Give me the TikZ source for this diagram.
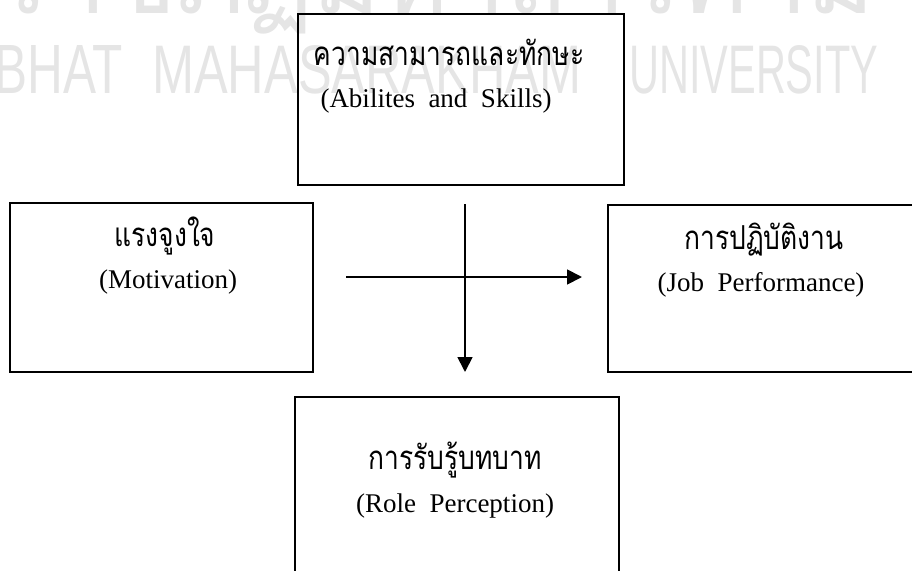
\documentclass[tikz,border=0pt]{standalone}
\usepackage{fontspec}
\setmainfont{Liberation Serif}
\newfontfamily\thaifont[Script=Thai,FakeStretch=0.8]{Loma}
\newfontfamily\wmthai[Script=Thai]{Loma}
\newfontfamily\wmfont{Liberation Sans}
\usetikzlibrary{arrows.meta,positioning}

\tikzset{
box/.style={draw,line width=2pt,inner sep=0pt},
thai/.style={font=\thaifont\fontsize{33}{38}\selectfont,inner sep=0pt,anchor=base},
eng/.style={font=\fontsize{27}{30}\selectfont,inner sep=0pt,anchor=base},
wm/.style={text=black!10,font=\wmfont,inner sep=0pt},
arr/.style={line width=1.8pt,-{Triangle[length=15pt,width=15pt]}}
}

\begin{document}
\begin{tikzpicture}[x=1pt,y=-1pt]
\useasboundingbox (0,0) rectangle (912,570);
\clip (0,0) rectangle (912,570);
\node[wm,anchor=base] (wmth) at (435,13) {\resizebox{880pt}{!}{\wmthai ราชภัฏมหาสารคาม}};
\node[wm,anchor=base east] (wm1) at (123,93) {\resizebox{255pt}{48pt}{RAJABHAT}};
\node[wm,anchor=base west] (wm2) at (152,93) {\resizebox{429pt}{48pt}{MAHASARAKHAM}};
\node[wm,anchor=base west] (wm3) at (629,93) {\resizebox{249pt}{48pt}{UNIVERSITY}};

\node[box,minimum width=326pt,minimum height=171pt] (abil) at (461,99.5) {};
\node[box,minimum width=303pt,minimum height=169pt] (motiv) at (161.5,287.5) {};
\node[box,minimum width=312pt,minimum height=167pt] (perf) at (764,288.5) {};
\node[box,minimum width=324pt,minimum height=186pt] (role) at (457,490) {};

\node[thai] (abilth) at (449,65) {ความสามารถและทักษะ};
\node[eng] (abilen) at (436,107) {(Abilites\ \ and\ \ Skills)};
\node[thai] (motivth) at (165,246) {แรงจูงใจ};
\node[eng] (motiven) at (168,288) {(Motivation)};
\node[thai] (perfth) at (764,249) {การปฏิบัติงาน};
\node[eng] (perfen) at (761,291) {(Job\ \ Performance)};
\node[thai] (roleth) at (455,469) {การรับรู้บทบาท};
\node[eng] (roleen) at (455,512) {(Role\ \ Perception)};

\coordinate (hs) at (346,277);
\coordinate (he) at (582,277);
\coordinate (vs) at (465,204);
\coordinate (ve) at (465,372);
\draw[arr] (hs)--(he);
\draw[arr] (vs)--(ve);
\end{tikzpicture}
\end{document}
